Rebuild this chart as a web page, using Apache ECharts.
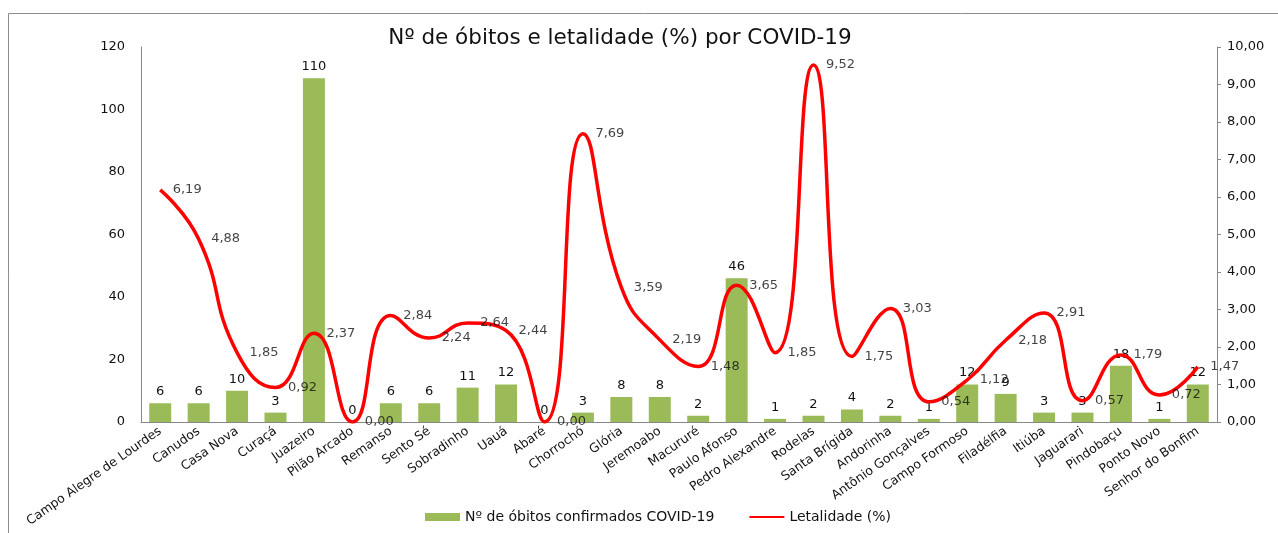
<!doctype html>
<html>
<head>
    <meta charset="utf-8">
    <title>Óbitos e letalidade</title>
    <script src="https://cdn.jsdelivr.net/npm/echarts@6/dist/echarts.min.js"></script>
    <style>
        body { margin: 0; background: #fff; }
        #main { width: 1278px; height: 533px; }
    </style>
</head>
<body>
    <div id="main"></div>
    <script type="text/javascript">
        var municipios = ['Campo Alegre de Lourdes', 'Canudos', 'Casa Nova', 'Curaçá', 'Juazeiro', 'Pilão Arcado',
            'Remanso', 'Sento Sé', 'Sobradinho', 'Uauá', 'Abaré', 'Chorrochó', 'Glória', 'Jeremoabo', 'Macururé',
            'Paulo Afonso', 'Pedro Alexandre', 'Rodelas', 'Santa Brígida', 'Andorinha', 'Antônio Gonçalves',
            'Campo Formoso', 'Filadélfia', 'Itiúba', 'Jaguarari', 'Pindobaçu', 'Ponto Novo', 'Senhor do Bonfim'];
        var obitos = [6, 6, 10, 3, 110, 0, 6, 6, 11, 12, 0, 3, 8, 8, 2, 46, 1, 2, 4, 2, 1, 12, 9, 3, 3, 18, 1, 12];
        var letalidade = [6.19, 4.88, 1.85, 0.92, 2.37, 0.00, 2.84, 2.24, 2.64, 2.44, 0.00, 7.69, 3.59, 2.19, 1.48,
            3.65, 1.85, 9.52, 1.75, 3.03, 0.54, 1.12, 2.18, 2.91, 0.57, 1.79, 0.72, 1.47];

        var fonte = '"DejaVu Sans", Verdana, sans-serif';
        var myChart = echarts.init(document.getElementById('main'));

        function virgula(v, casas) {
            return v.toFixed(casas).replace('.', ',');
        }

        var option = {
            backgroundColor: '#fff',
            textStyle: { fontFamily: fonte },
            title: {
                text: 'Nº de óbitos e letalidade (%) por COVID-19',
                left: 615,
                top: 22,
                textAlign: 'center',
                textStyle: { fontFamily: fonte, fontSize: 21.5, fontWeight: 'normal', color: '#111' }
            },
            graphic: [{
                type: 'rect',
                shape: { x: 8.5, y: 13.5, width: 1290, height: 540 },
                style: { fill: 'none', stroke: '#8c8c8c', lineWidth: 1 },
                silent: true
            }],
            legend: {
                bottom: 4,
                left: 420,
                itemGap: 34,
                itemWidth: 35,
                itemHeight: 8,
                textStyle: { fontFamily: fonte, fontSize: 14, color: '#111' },
                data: [{ name: 'Nº de óbitos confirmados COVID-19', icon: 'rect' },
                    { name: 'Letalidade (%)', itemStyle: { opacity: 0 } }]
            },
            grid: { left: 141, right: 61, top: 47, bottom: 111, outerBoundsMode: 'none' },
            xAxis: {
                type: 'category',
                data: municipios,
                axisLine: { lineStyle: { color: '#888' } },
                axisTick: { show: false },
                axisLabel: { interval: 0, rotate: 35, fontSize: 12.5, color: '#111', fontFamily: fonte, margin: 8 }
            },
            yAxis: [{
                type: 'value',
                min: 0,
                max: 120,
                interval: 20,
                splitLine: { show: false },
                axisLine: { show: true, lineStyle: { color: '#888' } },
                axisTick: { show: false },
                axisLabel: { fontSize: 13, color: '#111', margin: 16 }
            }, {
                type: 'value',
                min: 0,
                max: 10,
                interval: 1,
                splitLine: { show: false },
                axisLine: { show: true, lineStyle: { color: '#888' } },
                axisTick: { show: true, length: 4, lineStyle: { color: '#888' } },
                axisLabel: {
                    fontSize: 13, color: '#111', margin: 10,
                    formatter: function (v) { return virgula(v, 2); }
                }
            }],
            series: [{
                name: 'Nº de óbitos confirmados COVID-19',
                type: 'bar',
                data: obitos,
                barWidth: 22,
                itemStyle: { color: '#9BBB59' },
                label: { show: true, position: 'top', fontSize: 13, color: '#111', distance: 5 }
            }, {
                name: 'Letalidade (%)',
                type: 'line',
                yAxisIndex: 1,
                data: letalidade,
                smooth: 0.5,
                symbol: 'none',
                lineStyle: { color: '#FF0000', width: 3.5 },
                itemStyle: { color: '#FF0000' },
                z: 3
            }, {
                // rótulos da letalidade
                name: 'rotulos',
                type: 'scatter',
                yAxisIndex: 1,
                data: letalidade,
                symbolSize: 1,
                itemStyle: { color: 'rgba(0,0,0,0)' },
                label: {
                    show: true, position: 'right', distance: 12, fontSize: 13, color: '#111',
                    formatter: function (p) { return virgula(p.value, 2); }
                },
                silent: true,
                z: 4
            }]
        };

        myChart.setOption(option);
    </script>
</body>
</html>
